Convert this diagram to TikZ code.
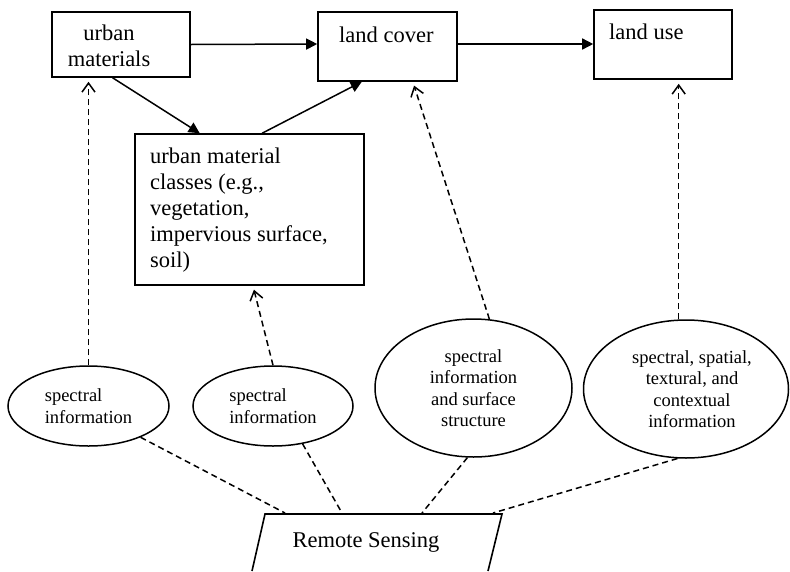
\documentclass[tikz,border=0pt]{standalone}
\usepackage{fontspec}
\setmainfont{Liberation Serif}
\usetikzlibrary{arrows.meta,shapes.geometric,calc}
\tikzset{
  box/.style={draw, line width=1.6pt, rectangle, inner sep=0pt},
  bubble/.style={draw, line width=1.5pt, ellipse, inner sep=0pt, align=center,
    font=\fontsize{18.5}{21.5}\selectfont},
  boxtext/.style={inner sep=0pt, font=\fontsize{22.5}{26}\selectfont},
  solidarrow/.style={line width=1.5pt, -{Triangle[length=11pt,width=11pt]}},
  dasharrow/.style={line width=1.5pt, dash pattern=on 6pt off 4pt,
    -{Straight Barb[length=9pt,width=13pt,line width=1.5pt]}, shorten >=4pt},
  dashline/.style={line width=1.5pt, dash pattern=on 6pt off 4pt},
}
\begin{document}
\begin{tikzpicture}[x=1pt,y=-1pt]
\useasboundingbox (0,0) rectangle (790,571);
% boxes
\node[box, minimum width=138pt, minimum height=65pt] (um) at (121,44.5) {};
\node[boxtext, align=center] (umt) at (109,46) {urban\\materials};
\node[box, minimum width=139pt, minimum height=69pt] (lc) at (387.5,46.5) {};
\node[boxtext, anchor=west] (lct) at (339,35) {land cover};
\node[box, minimum width=138pt, minimum height=69pt] (lu) at (663,44.5) {};
\node[boxtext, anchor=west] (lut) at (609,32) {land use};
\node[box, minimum width=229pt, minimum height=151pt] (cl) at (249.5,209.5) {};
\node[boxtext, align=left, anchor=west] (clt) at (150,210)
  {urban material\\classes (e.g.,\\vegetation,\\impervious surface,\\soil)};
% ellipses
\node[bubble, align=left, minimum width=161pt, minimum height=80pt] (e1) at (88.5,406) {spectral\\information};
\node[bubble, align=left, minimum width=160pt, minimum height=80pt] (e2) at (273,406) {spectral\\information};
\node[bubble, minimum width=197pt, minimum height=138pt] (e3) at (473.5,388) {spectral\\information\\and surface\\structure};
\node[bubble, minimum width=205pt, minimum height=138pt] (e4) at (686,389) {\hspace*{12pt}spectral, spatial,\\\hspace*{12pt}textural, and\\\hspace*{12pt}contextual\\\hspace*{12pt}information};
% remote sensing
\coordinate (rsa) at (252,571);
\coordinate (rsb) at (265,514);
\coordinate (rsc) at (502,514);
\coordinate (rsd) at (488,571);
\draw[line width=1.6pt] (rsa) -- (rsb) -- (rsc) -- (rsd);
\node[boxtext] (rs) at (366,542) {Remote Sensing};
\coordinate (r1) at (285,513);
\coordinate (r2) at (342,513);
\coordinate (r3) at (422,513);
\coordinate (r4) at (493,513);
% solid arrows
\draw[solidarrow] (um.east) -- (lc.west |- 0,44);
\draw[solidarrow] (lc.east |- 0,44) -- (lu.west |- 0,44);
\draw[solidarrow] ($(um.south west)!0.44!(um.south east)$) -- ($(cl.north west)!0.284!(cl.north east)$);
\draw[solidarrow] ($(cl.north west)!0.555!(cl.north east)$) -- ($(lc.south west)!0.317!(lc.south east)$);
% dashed arrows
\draw[dasharrow] (e1.north) -- (e1.north |- um.south);
\draw[dasharrow] (e2.north) -- ($(cl.south west)!0.515!(cl.south east)$);
\draw[dasharrow] (e3.77) -- ($(lc.south west)!0.68!(lc.south east)$);
\draw[dasharrow] (e4.96) -- (e4.96 |- lu.south);
% dashed lines to remote sensing
\draw[dashline] (e1.-31) -- (r1);
\draw[dashline] (e2.-52) -- (r2);
\draw[dashline] (e3.-95) -- (r3);
\draw[dashline] (e4.-97) -- (r4);
\end{tikzpicture}
\end{document}
